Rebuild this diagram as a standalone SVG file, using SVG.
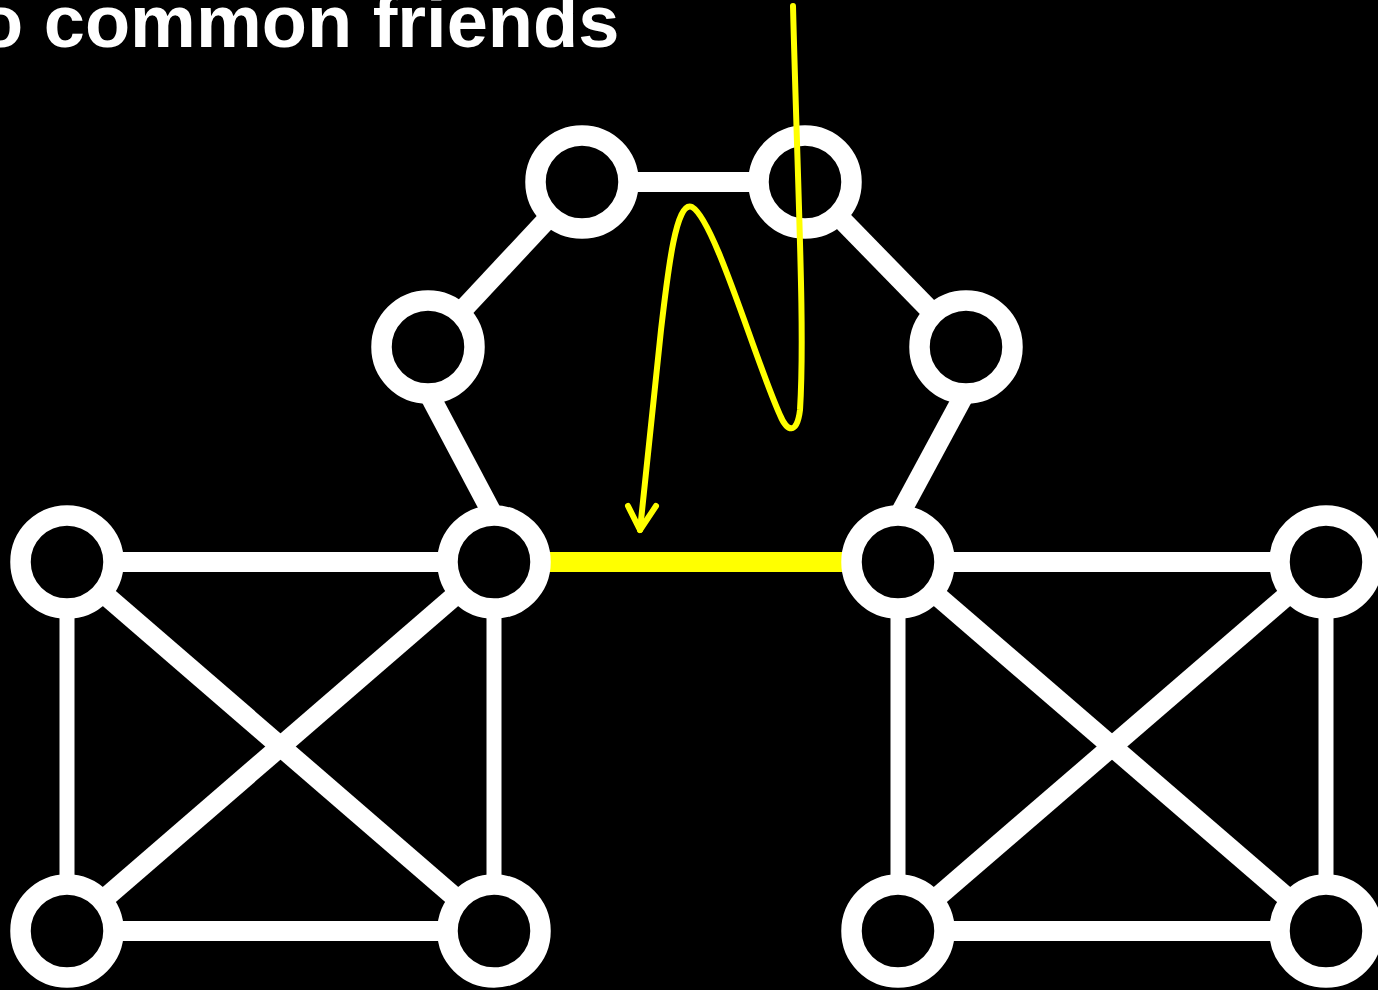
<svg xmlns="http://www.w3.org/2000/svg" width="1378" height="990" viewBox="0 0 1378 990">
<style>
.e{stroke:#fff;stroke-width:20;fill:none}
.v{stroke:#fff;stroke-width:15;fill:none}
.y{stroke:#ffff00;stroke-width:20;fill:none}
.n{fill:#000;stroke:#fff;stroke-width:20.5}
.a{stroke:#ffff00;stroke-width:6;fill:none;stroke-linecap:round;stroke-linejoin:round}
.t{font-family:"Liberation Sans",Arial,sans-serif;font-weight:bold;font-size:74px;fill:#fff}
</style>
<rect width="1378" height="990" fill="#000"/>
<text class="t" x="-22" y="47">o common friends</text>
<g id="connectors">
<line class="e" x1="582" y1="182" x2="805" y2="182"/>
<line class="e" x1="582" y1="182" x2="428" y2="347"/>
<line class="e" x1="805" y1="182" x2="966" y2="347"/>
<line class="e" x1="404" y1="347" x2="518" y2="562"/>
<line class="e" x1="990" y1="347" x2="874" y2="562"/>
<line class="y" x1="494" y1="562" x2="898" y2="562"/>
<line class="e" x1="67" y1="562" x2="494" y2="562"/>
<line class="v" x1="67" y1="562" x2="67" y2="931"/>
<line class="v" x1="494" y1="562" x2="494" y2="931"/>
<line class="e" x1="67" y1="931" x2="494" y2="931"/>
<line class="e" x1="67" y1="562" x2="494" y2="931"/>
<line class="e" x1="494" y1="562" x2="67" y2="931"/>
<line class="e" x1="898" y1="562" x2="1326" y2="562"/>
<line class="v" x1="898" y1="562" x2="898" y2="931"/>
<line class="v" x1="1326" y1="562" x2="1326" y2="931"/>
<line class="e" x1="898" y1="931" x2="1326" y2="931"/>
<line class="e" x1="898" y1="562" x2="1326" y2="931"/>
<line class="e" x1="1326" y1="562" x2="898" y2="931"/>
</g>
<g id="nodes">
<g id="n1"><circle class="n" cx="582" cy="182" r="46.5"/></g>
<g id="n2"><circle class="n" cx="805" cy="182" r="46.5"/></g>
<g id="n3"><circle class="n" cx="428" cy="347" r="46.5"/></g>
<g id="n4"><circle class="n" cx="966" cy="347" r="46.5"/></g>
<g id="n5"><circle class="n" cx="494" cy="562" r="46.5"/></g>
<g id="n6"><circle class="n" cx="898" cy="562" r="46.5"/></g>
<g id="n7"><circle class="n" cx="67" cy="562" r="46.5"/></g>
<g id="n8"><circle class="n" cx="67" cy="931" r="46.5"/></g>
<g id="n9"><circle class="n" cx="494" cy="931" r="46.5"/></g>
<g id="n10"><circle class="n" cx="1326" cy="562" r="46.5"/></g>
<g id="n11"><circle class="n" cx="898" cy="931" r="46.5"/></g>
<g id="n12"><circle class="n" cx="1326" cy="931" r="46.5"/></g>
</g>
<g id="annotation">
<path class="a" d="M 793 6 C 798 200, 805 330, 800 410 C 797 435, 787 432, 780 415 C 755 360, 715 220, 692 207 C 676 200, 668 270, 661 330 L 640 530"/>
<polyline class="a" points="628,506 640,530 656,506"/>
</g>
</svg>
